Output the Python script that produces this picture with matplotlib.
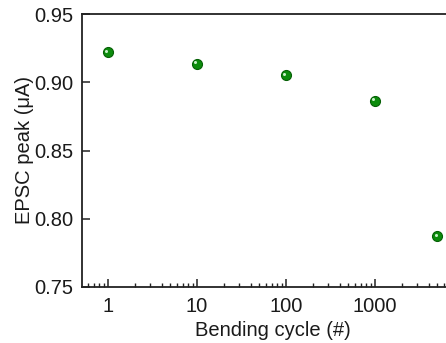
import matplotlib

matplotlib.use("Agg")
import matplotlib.pyplot as plt
import matplotlib.transforms as mtransforms
from matplotlib.ticker import FixedLocator, LogLocator, NullFormatter, NullLocator

CYCLES = [1, 10, 100, 1000, 5000]
EPSC_PEAK = [0.922, 0.9135, 0.905, 0.8865, 0.787]
X_TICKS = [1, 10, 100, 1000]
X_TICK_LABELS = ["1", "10", "100", "1000"]
Y_TICKS = [0.75, 0.80, 0.85, 0.90, 0.95]

plt.rcParams["font.family"] = ["Liberation Sans", "DejaVu Sans"]

fig = plt.figure(figsize=(4.46, 3.43), dpi=100)
# axes run past the right edge of the canvas, like the cropped original
ax = fig.add_axes([82 / 446, 56 / 343, 382 / 446, 273 / 343])

ax.plot(CYCLES, EPSC_PEAK, "o", ms=7.2, mfc="#0c8c0c", mec="#066006", mew=0.8,
        linestyle="none", zorder=3, clip_on=False)
shine = mtransforms.offset_copy(ax.transData, fig=fig, x=-1.2, y=1.2, units="points")
ax.plot(CYCLES, EPSC_PEAK, "o", ms=2.2, mfc="#c8f0c8", mec="none",
        linestyle="none", zorder=4, transform=shine, clip_on=False)

ax.set_xscale("log")
ax.set_xlim(0.51, 1e4)
ax.set_ylim(0.75, 0.95)

ax.xaxis.set_major_locator(FixedLocator(X_TICKS))
ax.set_xticklabels(X_TICK_LABELS)
ax.xaxis.set_minor_locator(LogLocator(base=10, subs=range(2, 10), numticks=20))
ax.xaxis.set_minor_formatter(NullFormatter())
ax.set_yticks(Y_TICKS)
ax.set_yticklabels([f"{v:.2f}" for v in Y_TICKS])
ax.yaxis.set_minor_locator(NullLocator())

for side in ["top", "bottom", "left", "right"]:
    ax.spines[side].set_linewidth(1.3)
    ax.spines[side].set_color("#222222")

ax.tick_params(axis="both", which="major", direction="in", length=5.5, width=1.1,
               labelsize=14.5, color="#222222", labelcolor="#1a1a1a",
               top=False, right=False)
ax.tick_params(axis="x", which="major", pad=7)
ax.tick_params(axis="y", which="major", pad=6.5)
ax.tick_params(axis="x", which="minor", direction="in", length=3.2, width=1.0,
               color="#222222", top=False)

ax.set_xlabel("Bending cycle (#)", fontsize=14.5, labelpad=3.5, color="#1a1a1a")
ax.set_ylabel("EPSC peak (μA)", fontsize=14.5, color="#1a1a1a")
ax.yaxis.set_label_coords(-0.125, 0.5)

fig.savefig("out.png", dpi=100)
